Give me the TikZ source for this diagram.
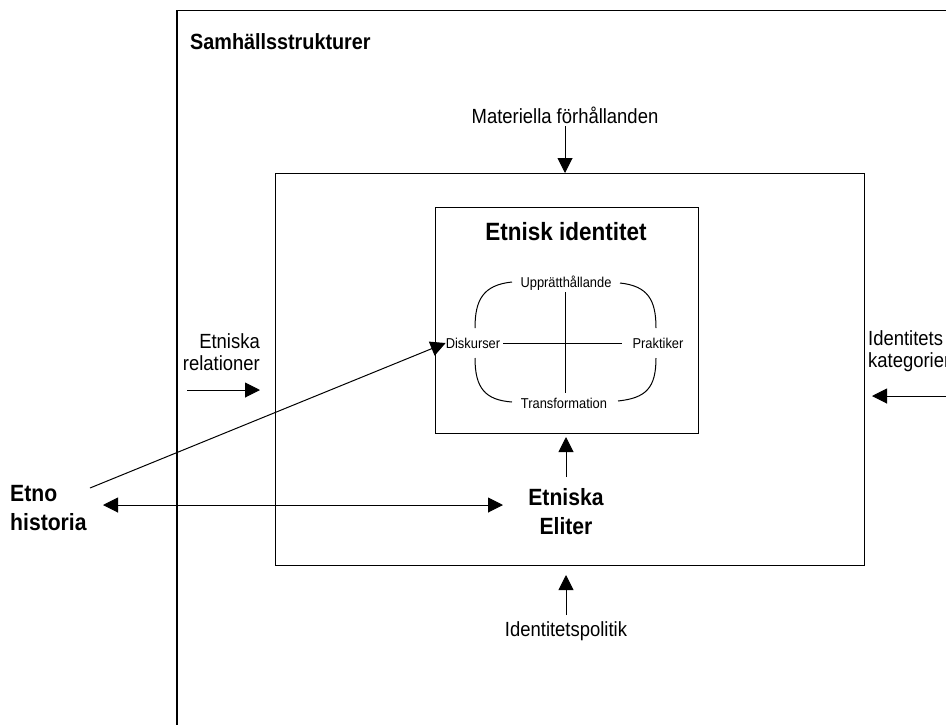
\documentclass[tikz,border=0pt]{standalone}
\usepackage{fontspec}
\setmainfont[FakeStretch=0.9]{Liberation Sans}
\usetikzlibrary{arrows.meta}
\tikzset{
  frame/.style={draw, line width=1.1pt, inner sep=0pt},
  lbl/.style={inner sep=0pt, font=\fontsize{20.5}{22}\selectfont},
  small/.style={inner sep=0pt, font=\fontsize{14.3}{16}\selectfont},
  big/.style={inner sep=0pt, font=\fontsize{23.5}{29}\selectfont\bfseries},
  arr/.style={line width=1pt, -{Triangle[length=15pt,width=15pt]}},
  darr/.style={line width=1pt, {Triangle[length=15pt,width=15pt]}-{Triangle[length=15pt,width=15pt]}},
  ln/.style={line width=1pt},
}
\begin{document}
\begin{tikzpicture}[x=1pt,y=-1pt]
\useasboundingbox (0,0) rectangle (946,724);
\fill[white] (0,0) rectangle (946,724);
\begin{scope}
\clip (0,0) rectangle (946,724);
\draw[line width=1.2pt] (177,760) -- (177,10.5) -- (980,10.5);
\end{scope}
\node[inner sep=0pt, font=\fontsize{22}{26}\selectfont\bfseries, anchor=west] (samh) at (190,42) {Samhällsstrukturer};

% middle and inner boxes
\node[frame, anchor=north west, minimum width=589pt, minimum height=392pt] (mid) at (275,173) {};
\node[frame, anchor=north west, minimum width=263pt, minimum height=226pt] (inner) at (435,207) {};

\node[inner sep=0pt, font=\fontsize{25}{29}\selectfont\bfseries] (etid) at (566,232) {Etnisk identitet};

% cross labels
\node[small] (upp) at (566,283) {Upprätthållande};
\node[small] (tra) at (564,403) {Transformation};
\node[small] (dis) at (473,343) {Diskurser};
\node[small] (pra) at (658,343) {Praktiker};
\draw[ln] (503,343) -- (622,343);
\draw[ln] (565,292) -- (565,393);
% rounded arcs
\draw[ln] (512,282) .. controls (483,285) and (475,300) .. (475,328);
\draw[ln] (475,358) .. controls (475,388) and (485,400) .. (512,402);
\draw[ln] (620,283) .. controls (648,286) and (656,300) .. (656,328);
\draw[ln] (656,358) .. controls (656,388) and (646,398) .. (618,401);

% top label
\node[lbl] (mat) at (565,115) {Materiella förhållanden};
\coordinate (matA) at (565,126);
\draw[arr] (matA) -- (mid.north -| matA);

% left label
\node[lbl, align=right, anchor=east] (etrel) at (260,352) {Etniska\\relationer};
\coordinate (erA) at (187,390);
\coordinate (erB) at (260,390);
\draw[arr] (erA) -- (erB);

% right label
\node[lbl, align=left, anchor=west] (idkat) at (868,351) {Identitets\\kategorier};
\coordinate (ikA) at (960,396);
\coordinate (ikB) at (872,396);
\draw[arr] (ikA) -- (ikB);

% Etniska Eliter
\node[big, align=center] (elit) at (566,512) {Etniska\\Eliter};
\coordinate (elA) at (566,477);
\coordinate (elB) at (566,437);
\draw[arr] (elA) -- (elB);

% Etno historia
\node[big, align=left, anchor=west] (etno) at (10,508) {Etno\\historia};
\coordinate (ehA) at (103,505);
\coordinate (ehB) at (503,505);
\draw[darr] (ehA) -- (ehB);
\coordinate (slA) at (90,488);
\draw[arr] (slA) -- (dis.west);

% bottom label
\node[lbl] (idpol) at (566,631) {Identitetspolitik};
\coordinate (ipA) at (566,615);
\coordinate (ipB) at (566,575);
\draw[arr] (ipA) -- (ipB);
\end{tikzpicture}
\end{document}
